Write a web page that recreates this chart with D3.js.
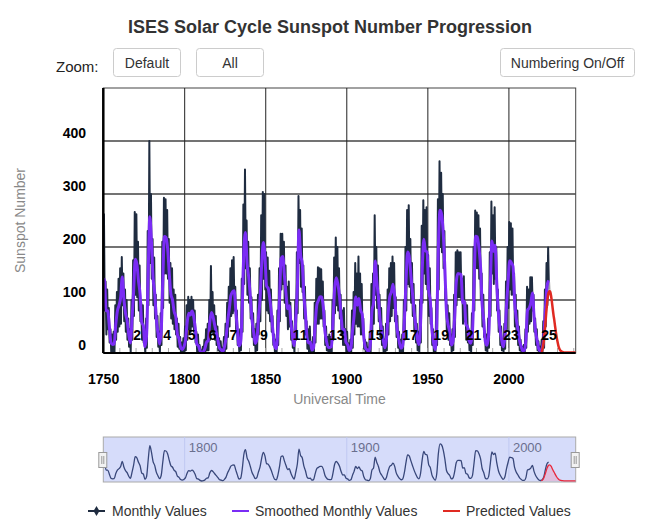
<!DOCTYPE html>
<html><head><meta charset="utf-8">
<script src="https://cdn.jsdelivr.net/npm/d3@7"></script>
<style>
html,body{margin:0;padding:0;background:#fff;}
svg{display:block;font-family:"Liberation Sans",Arial,sans-serif;}
</style></head>
<body><svg id="c" width="660" height="525"></svg>
<script>
// ---------- DATA ----------
const firstYear = 1749;
// yearly level used for the smoothed monthly curve (1749 .. 2024)
const smoothedValues = [
134.7,139.0,79.5,79.7,51.2,20.3,16.0,17.0,54.0,79.3,90.0,104.8,143.2,102.0,75.2,60.7,34.8,19.0,63.0,116.3,
176.8,168.0,136.0,110.8,58.0,51.0,11.7,33.0,154.2,257.3,209.8,141.3,113.5,64.2,38.0,17.0,40.2,138.2,220.0,218.2,
196.8,149.8,111.0,100.0,78.2,68.3,35.5,26.7,10.7,6.8,11.3,24.2,56.7,75.0,71.8,79.2,70.3,46.8,16.8,13.5,
4.2,0.0,2.3,8.3,20.3,23.2,59.0,76.3,68.3,52.9,38.5,24.2,9.2,6.3,2.2,11.4,28.2,59.9,83.0,108.5,
115.2,117.4,80.8,44.3,13.4,19.5,85.8,192.7,227.3,168.7,143.0,105.5,63.3,40.3,18.1,25.1,65.8,102.7,166.3,208.3,
182.5,126.3,122.0,102.7,74.1,39.0,12.7,8.2,43.4,104.4,178.3,182.2,146.6,112.1,83.5,89.3,57.8,30.7,13.9,62.8,
123.6,232.0,185.3,169.2,110.1,74.5,28.3,18.9,20.7,5.7,10.0,53.7,90.5,99.0,106.1,105.8,86.3,42.4,21.8,11.2,
10.4,11.8,59.5,121.7,142.0,130.0,106.6,69.4,43.8,44.4,20.2,15.7,4.6,8.5,40.8,70.1,105.5,90.1,102.8,80.9,
73.2,30.9,9.5,6.0,2.4,16.1,79.0,95.0,173.6,134.6,105.7,62.7,43.5,23.7,9.7,27.9,74.0,106.5,114.7,129.7,
108.2,59.4,35.1,18.6,9.2,14.6,60.2,132.8,190.6,182.6,148.0,113.0,79.2,50.8,27.1,16.1,55.3,154.3,214.7,193.0,
190.7,118.9,98.3,45.0,20.1,6.6,54.2,200.7,269.3,261.7,225.1,159.0,76.4,53.4,39.9,15.0,22.0,66.8,132.9,150.0,
149.4,148.0,94.4,97.6,54.1,49.2,22.5,18.4,39.3,131.0,220.1,218.9,198.9,162.4,91.0,60.5,20.6,14.8,33.9,123.0,
211.1,191.8,203.3,133.0,76.1,44.9,25.1,11.6,28.9,88.3,136.3,173.9,170.4,163.6,99.3,65.3,45.8,24.7,12.6,4.2,
4.8,24.9,80.8,84.5,94.0,113.3,69.8,39.8,21.7,7.0,3.6,8.8,29.6,83.2,125.5,137.0
];
// highest and lowest monthly value of each year (1749 .. 2024)
const monthlyHigh = [
190,262,135,120,85,45,35,40,90,115,140,160,181,150,120,100,65,45,100,175,
266,262,210,165,95,90,30,65,230,400,300,215,180,110,70,40,75,210,293,290,
270,215,170,160,120,110,65,55,30,20,28,50,90,106,100,106,100,80,40,35,
15,5,12,25,45,55,100,164,115,90,70,50,28,22,10,30,55,95,125,160,
175,181,125,80,35,45,140,280,346,250,210,160,105,75,45,55,110,160,260,304,
300,190,180,155,120,70,35,25,80,160,225,225,210,165,125,135,95,60,35,100,
190,296,270,235,165,125,60,45,50,20,30,95,140,162,160,158,135,80,50,30,
35,30,100,180,218,200,160,110,80,85,45,40,18,25,80,115,170,150,182,150,
130,65,25,20,10,40,130,150,260,200,165,110,85,50,25,55,120,160,170,182,
170,105,70,40,25,35,100,200,270,279,215,170,130,90,55,40,100,240,288,270,
275,185,160,85,45,20,100,290,362,340,300,230,125,90,75,35,45,110,190,194,
190,190,140,145,95,90,45,40,75,200,269,265,260,235,150,110,40,35,65,190,
286,260,275,200,120,80,50,25,55,135,200,247,245,235,150,110,80,50,25,12,
15,45,125,120,143,143,110,65,45,22,12,25,60,120,170,199
];
const monthlyLow = [
90,80,35,45,20,2,0,2,25,40,50,55,90,60,40,25,12,2,25,70,
110,105,80,60,25,20,0,10,90,170,140,90,65,30,12,2,15,85,150,150,
140,95,65,55,45,35,12,8,0,0,0,5,25,45,40,50,40,20,2,0,
0,0,0,0,5,5,25,40,35,25,15,5,0,0,0,0,8,30,50,70,
75,80,45,15,2,5,40,130,160,110,95,65,30,15,2,5,35,60,100,140,
120,80,75,60,40,15,0,0,15,60,120,130,95,70,45,50,25,10,0,25,
75,170,125,115,65,35,8,2,2,0,0,20,55,55,65,65,50,15,5,0,
0,0,25,75,90,80,65,35,15,15,2,0,0,0,10,35,55,50,50,35,
35,8,0,0,0,0,40,55,110,85,60,30,15,2,0,5,35,60,70,85,
60,30,10,2,0,0,25,80,130,125,95,70,40,20,5,0,20,95,150,130,
120,70,55,15,2,0,15,120,200,190,160,100,40,25,15,2,5,30,90,105,
105,100,55,60,25,20,5,2,15,80,160,160,140,100,50,30,5,2,10,70,
150,130,140,80,40,15,5,2,8,45,85,120,110,110,50,30,15,5,2,0,
0,10,40,55,60,80,40,15,5,0,0,0,10,50,90,120
];
// predicted values (year, value)
const predictedYears  = [2019.9,2020.5,2021,2021.5,2022,2022.5,2023,2023.5,2024,2024.5,2025,2025.5,2026,2026.5,2027,2027.5,2028,2028.5,2029,2029.5,2030,2030.5,2031,2031.5,2032,2033,2034,2036,2038,2041.2];
const predictedValues = [2,5,12,22,38,55,75,92,106,114,117,115,108,97,84,72,62,50,39,29,21,14,9,6,4,2,1,1,1,1];
const rangeYears = [2023.5,2024,2024.5,2025,2025.5,2026,2026.5];
const rangeHigh  = [100,124,134,137,133,121,105];
const rangeLow   = [92,106,114,117,115,108,97];
// labels
const yTicks = [0,100,200,300,400];
const xTicks = [1750,1800,1850,1900,1950,2000];
const navTicks = [1800,1900,2000];
const cycleNumbers = [2,4,5,6,7,9,11,13,15,17,19,21,23,25];
const cycleYears = [1770.7,1789.2,1804.3,1817.3,1830,1848.9,1871.2,1893.8,1917.9,1939,1958.2,1978.2,2001.3,2024.8];
const legendNames = ["Monthly Values","Smoothed Monthly Values","Predicted Values"];

// ---------- LAYOUT ----------
const svg = d3.select("#c");
const L = 103.3, R = 575.7, T = 88, B = 353;
const x = d3.scaleLinear().domain([1749.8, 2041.2]).range([L, R]);
const y = d3.scaleLinear().domain([0, 500]).range([B, T]);
const COL_M = "#1f2c40", COL_S = "#7a2cf5", COL_P = "#e02a22";

// title
svg.append("text").attr("x",330).attr("y",33).attr("text-anchor","middle")
  .attr("font-size",18).attr("font-weight","bold").attr("fill","#333")
  .text("ISES Solar Cycle Sunspot Number Progression");

// zoom controls
svg.append("text").attr("x",56).attr("y",72).attr("font-size",15).attr("fill","#222").text("Zoom:");
const buttons = [{t:"Default",x:113.5,w:67},{t:"All",x:196.5,w:67},{t:"Numbering On/Off",x:500.5,w:134}];
buttons.forEach(b=>{
  svg.append("rect").attr("x",b.x).attr("y",48.5).attr("width",b.w).attr("height",28).attr("rx",3)
    .attr("fill","#fff").attr("stroke","#cccccc");
  svg.append("text").attr("x",b.x+b.w/2).attr("y",67.5).attr("text-anchor","middle")
    .attr("font-size",14).attr("fill","#333").text(b.t);
});

// clip
svg.append("defs").append("clipPath").attr("id","plotClip")
  .append("rect").attr("x",L).attr("y",T).attr("width",R-L).attr("height",B-T);

// frame and grid
svg.append("rect").attr("x",L).attr("y",T).attr("width",R-L).attr("height",B-T)
  .attr("fill","none").attr("stroke","#444").attr("stroke-width",1);
svg.append("g").selectAll("line").data(yTicks.filter(d=>d>0)).join("line")
  .attr("x1",L).attr("x2",R).attr("y1",d=>y(d)).attr("y2",d=>y(d))
  .attr("stroke","#444").attr("stroke-width",1.5);
svg.append("g").selectAll("line").data(xTicks.filter(d=>d>1750)).join("line")
  .attr("x1",d=>x(d)).attr("x2",d=>x(d)).attr("y1",T).attr("y2",B)
  .attr("stroke","#222").attr("stroke-width",1);
// minor ticks
svg.append("g").selectAll("line").data(d3.range(1760,2041,10)).join("line")
  .attr("x1",d=>x(d)).attr("x2",d=>x(d)).attr("y1",B).attr("y2",B-5)
  .attr("stroke","#aaa").attr("stroke-width",1);

const plot = svg.append("g").attr("clip-path","url(#plotClip)");

// monthly series
const monthlyPts = [];
smoothedValues.forEach((v,i)=>{
  const yr = firstYear + i;
  monthlyPts.push([yr+0.2, monthlyHigh[i]]);
  monthlyPts.push([yr+0.7, monthlyLow[i]]);
});
const line = d3.line().x(d=>x(d[0])).y(d=>y(d[1]));
plot.append("path").datum(monthlyPts).attr("d",line)
  .attr("fill","none").attr("stroke",COL_M).attr("stroke-width",2).attr("stroke-linejoin","round");

// prediction range
const area = d3.area().x(d=>x(d[0])).y0(d=>y(d[2])).y1(d=>y(d[1])).curve(d3.curveMonotoneX);
plot.append("path").datum(rangeYears.map((yr,i)=>[yr,rangeHigh[i],rangeLow[i]]))
  .attr("d",area).attr("fill","#c8c8c8").attr("opacity",0.7);

// smoothed series
const smoothPts = smoothedValues.map((v,i)=>[firstYear+i+0.5, v]);
plot.append("path").datum(smoothPts).attr("d",line.curve(d3.curveMonotoneX))
  .attr("fill","none").attr("stroke",COL_S).attr("stroke-width",3).attr("stroke-linejoin","round");

// predicted
const predPts = predictedYears.map((yr,i)=>[yr,predictedValues[i]]);
plot.append("path").datum(predPts).attr("d",d3.line().x(d=>x(d[0])).y(d=>y(d[1])).curve(d3.curveMonotoneX))
  .attr("fill","none").attr("stroke",COL_P).attr("stroke-width",2.5);

// axes lines
svg.append("line").attr("x1",L).attr("x2",L).attr("y1",T).attr("y2",B).attr("stroke","#000").attr("stroke-width",2.5);
svg.append("line").attr("x1",L).attr("x2",R).attr("y1",B).attr("y2",B).attr("stroke","#000").attr("stroke-width",2);

// cycle numbers
svg.append("g").selectAll("text").data(cycleNumbers).join("text")
  .attr("x",(d,i)=>x(cycleYears[i])).attr("y",340).attr("text-anchor","middle")
  .attr("font-size",14).attr("font-weight","bold").attr("fill","#000").text(d=>d);

// y labels
svg.append("g").selectAll("text").data(yTicks).join("text")
  .attr("x",86).attr("y",d=>y(d)-3).attr("text-anchor","end")
  .attr("font-size",14).attr("font-weight","bold").attr("fill","#000").text(d=>d);
// x labels
svg.append("g").selectAll("text").data(xTicks).join("text")
  .attr("x",d=>x(d)).attr("y",384).attr("text-anchor","middle")
  .attr("font-size",14).attr("font-weight","bold").attr("fill","#000").text(d=>d);
svg.append("text").attr("x",(L+R)/2).attr("y",404).attr("text-anchor","middle")
  .attr("font-size",14).attr("fill","#888").text("Universal Time");
svg.append("text").attr("transform",`translate(25,${(T+B)/2}) rotate(-90)`).attr("text-anchor","middle")
  .attr("font-size",14).attr("fill","#888").text("Sunspot Number");

// ---------- NAVIGATOR ----------
const nT = 437, nB = 482;
const ny = d3.scaleLinear().domain([0,320]).range([nB-1, nT]);
svg.append("rect").attr("x",L).attr("y",nT).attr("width",R-L).attr("height",nB-nT)
  .attr("fill","#d6dcfa").attr("stroke","#aaa").attr("stroke-width",1);
svg.append("g").selectAll("line").data(navTicks).join("line")
  .attr("x1",d=>x(d)).attr("x2",d=>x(d)).attr("y1",nT).attr("y2",nB)
  .attr("stroke","#bfc8f2").attr("stroke-width",1);
svg.append("g").selectAll("text").data(navTicks).join("text")
  .attr("x",d=>x(d)+4).attr("y",452).attr("font-size",13).attr("fill","#6a6f8e").text(d=>d);
const navLine = d3.line().x(d=>x(d[0])).y(d=>ny(d[1])).curve(d3.curveMonotoneX);
const navArea = d3.area().x(d=>x(d[0])).y0(nB-1).y1(d=>ny(d[1])).curve(d3.curveMonotoneX);
const navG = svg.append("g").attr("clip-path","url(#navClip)");
svg.select("defs").append("clipPath").attr("id","navClip").append("rect")
  .attr("x",L).attr("y",nT).attr("width",R-L).attr("height",nB-nT);
navG.append("path").datum(smoothPts).attr("d",navLine).attr("fill","none").attr("stroke","#38477a").attr("stroke-width",1.3);
navG.append("path").datum(predPts).attr("d",navArea).attr("fill","#f08aa8").attr("opacity",0.35);
navG.append("path").datum(predPts).attr("d",navLine).attr("fill","none").attr("stroke","#e8283c").attr("stroke-width",1.3);
[L-1, R-1].forEach(hx=>{
  svg.append("rect").attr("x",hx-3.5).attr("y",452.5).attr("width",8).attr("height",15)
    .attr("fill","#f2f2f2").attr("stroke","#999");
  svg.append("line").attr("x1",hx-0.5).attr("x2",hx-0.5).attr("y1",456).attr("y2",464).attr("stroke","#999");
  svg.append("line").attr("x1",hx+1.5).attr("x2",hx+1.5).attr("y1",456).attr("y2",464).attr("stroke","#999");
});

// ---------- LEGEND ----------
const lg = [{x:88,c:COL_M,tx:112,marker:true},{x:232,c:COL_S,tx:255},{x:443,c:COL_P,tx:466}];
lg.forEach((d,i)=>{
  svg.append("line").attr("x1",d.x).attr("x2",d.x+17).attr("y1",511).attr("y2",511)
    .attr("stroke",d.c).attr("stroke-width",2);
  if(d.marker) svg.append("path").attr("d",d3.symbol(d3.symbolDiamond,30)())
    .attr("transform",`translate(${d.x+8.5},511)`).attr("fill",d.c);
  svg.append("text").attr("x",d.tx).attr("y",516).attr("font-size",14).attr("fill","#333").text(legendNames[i]);
});
</script></body></html>
